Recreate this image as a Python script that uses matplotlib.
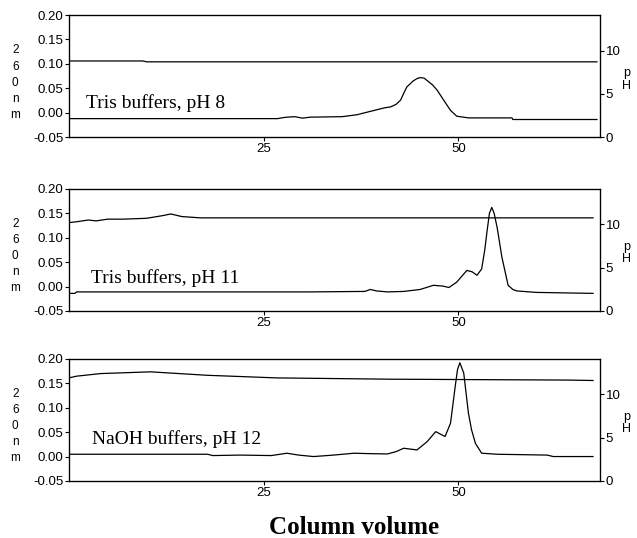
import matplotlib
matplotlib.use("Agg")
import matplotlib.pyplot as plt

# Absorbance (260 nm) and pH traces, one panel per buffer system
abs1_x = [0, 26.8, 27.5, 28, 29, 30, 31, 35.1, 37, 39, 40.5, 41.3, 42.0, 42.6, 43.0, 43.4,
          44.2, 44.7, 45.1, 45.6, 46.0, 46.7, 47.3, 48.2, 49.0, 49.8, 51.3, 56.9, 57.0, 67.8]
abs1_y = [-0.012, -0.012, -0.010, -0.009, -0.008, -0.011, -0.009, -0.008, -0.004, 0.004,
          0.010, 0.012, 0.017, 0.026, 0.040, 0.053, 0.065, 0.070, 0.072, 0.071, 0.066,
          0.057, 0.046, 0.024, 0.005, -0.007, -0.0105, -0.0105, -0.0138, -0.0138]
ph1_x = [0, 9.5, 10, 67.8]
ph1_y = [8.8, 8.8, 8.7, 8.7]

abs2_x = [0, 0.8, 1.0, 31, 38.0, 38.7, 39.5, 40.9, 43, 45.1, 46.8, 48.0, 48.8, 49.8, 50.5,
          51.1, 51.8, 52.4, 53.0, 53.4, 53.7, 54.0, 54.3, 54.6, 55.0, 55.6, 56.4, 57.0,
          57.5, 60, 67.3]
abs2_y = [-0.014, -0.014, -0.011, -0.011, -0.010, -0.006, -0.009, -0.011, -0.010, -0.006,
          0.0025, 0.001, -0.002, 0.009, 0.022, 0.033, 0.030, 0.023, 0.036, 0.075, 0.114,
          0.150, 0.162, 0.150, 0.12, 0.06, 0.0025, -0.006, -0.009, -0.012, -0.014]
ph2_x = [0, 1, 2.5, 3.5, 5, 7, 10, 12, 13.1, 14.5, 16.9, 67.3]
ph2_y = [10.2, 10.3, 10.5, 10.4, 10.6, 10.6, 10.7, 11.0, 11.2, 10.9, 10.75, 10.75]

abs3_x = [0, 17.8, 18.5, 22, 26, 28.0, 29.5, 31.4, 32.3, 34, 36.6, 38.5, 40.9, 42, 43.0,
          44.7, 46.0, 47.1, 48.3, 49.0, 49.3, 49.6, 49.9, 50.2, 50.7, 51.0, 51.3, 51.7,
          52.2, 53.0, 55.0, 61.4, 62.2, 67.3]
abs3_y = [0.0047, 0.0047, 0.002, 0.003, 0.002, 0.0068, 0.003, 0.0, 0.001, 0.003, 0.0068,
          0.006, 0.0053, 0.010, 0.017, 0.0135, 0.0305, 0.051, 0.041, 0.068, 0.105, 0.143,
          0.178, 0.192, 0.171, 0.130, 0.089, 0.055, 0.027, 0.0068, 0.0047, 0.003, 0.0, 0.0]
ph3_x = [0, 1, 4.1, 10.5, 17.8, 26.7, 41.3, 64.1, 67.3]
ph3_y = [11.9, 12.1, 12.4, 12.6, 12.2, 11.9, 11.75, 11.65, 11.6]

labels = ["Tris buffers, pH 8", "Tris buffers, pH 11", "NaOH buffers, pH 12"]
label_pos = [(2.2, 0.02), (2.8, 0.017), (3.0, 0.035)]

panels = [(abs1_x, abs1_y, ph1_x, ph1_y),
          (abs2_x, abs2_y, ph2_x, ph2_y),
          (abs3_x, abs3_y, ph3_x, ph3_y)]

bottoms = [0.745, 0.422, 0.106]
tick_font = {"family": "Liberation Sans", "size": 9.5}

fig = plt.figure(figsize=(6.37, 5.38), dpi=100)

for i, (ax_, ay_, px_, py_) in enumerate(panels):
    ax = fig.add_axes([0.108, bottoms[i], 0.834, 0.227])
    ax.plot(ax_, ay_, color="black", lw=0.9)
    ax.set_xlim(0, 68.2)
    ax.set_ylim(-0.05, 0.20)
    ax.set_yticks([-0.05, 0.00, 0.05, 0.10, 0.15, 0.20])
    ax.set_yticklabels(["-0.05", "0.00", "0.05", "0.10", "0.15", "0.20"], fontdict=tick_font)
    ax.set_xticks([25, 50])
    ax.set_xticklabels(["25", "50"], fontdict=tick_font)
    ax.tick_params(direction="out", length=3, width=0.8, pad=1)
    for s in ax.spines.values():
        s.set_linewidth(0.9)

    ax.text(label_pos[i][0], label_pos[i][1], labels[i], family="Liberation Serif",
            fontsize=14, va="center", ha="left")

    # pH on the right-hand axis
    ax2 = ax.twinx()
    ax2.plot(px_, py_, color="black", lw=0.9)
    ax2.set_ylim(0, 14.1)
    ax2.set_yticks([0, 5, 10])
    ax2.set_yticklabels(["0", "5", "10"], fontdict=tick_font)
    ax2.tick_params(direction="out", length=3, width=0.8, pad=1)

    yc = bottoms[i] + 0.227 / 2
    fig.text(0.024, yc - 0.012, "2\n6\n0\nn\nm", family="Liberation Sans", fontsize=8.5,
             ha="center", va="center", linespacing=1.45)
    fig.text(0.984, yc - 0.006, "p\nH", family="Liberation Sans", fontsize=9,
             ha="center", va="center", linespacing=1.05)

fig.text(0.556, 0.02, "Column volume", family="Liberation Serif", fontweight="bold",
         fontsize=18, ha="center", va="center")

fig.savefig("out.png", dpi=100)
